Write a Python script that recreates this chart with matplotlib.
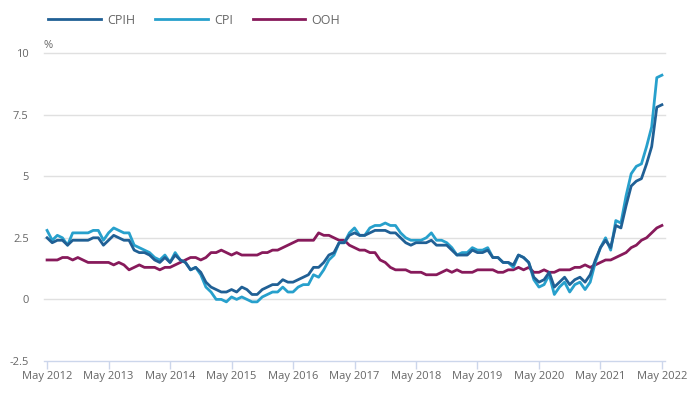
#
# plot.py - CPIH, CPI and OOH 12-month inflation rates, May 2012 to May 2022
#
import matplotlib
matplotlib.use("Agg")
import matplotlib.pyplot as plt

# Month index 0 = May 2012, 120 = May 2022
tick_labels = ["May 2012", "May 2013", "May 2014", "May 2015", "May 2016",
               "May 2017", "May 2018", "May 2019", "May 2020", "May 2021",
               "May 2022"]
y_ticks = [-2.5, 0, 2.5, 5, 7.5, 10]
y_tick_labels = ["-2.5", "0", "2.5", "5", "7.5", "10"]

cpih = [2.5, 2.3, 2.4, 2.4, 2.2, 2.4, 2.4, 2.4,
        2.4, 2.5, 2.5, 2.2, 2.4, 2.6, 2.5, 2.4, 2.4, 2.0, 1.9, 1.9,
        1.8, 1.6, 1.5, 1.7, 1.5, 1.8, 1.6, 1.5, 1.2, 1.3, 1.1, 0.7,
        0.5, 0.4, 0.3, 0.3, 0.4, 0.3, 0.5, 0.4, 0.2, 0.2, 0.4, 0.5,
        0.6, 0.6, 0.8, 0.7, 0.7, 0.8, 0.9, 1.0, 1.3, 1.3, 1.5, 1.8,
        1.9, 2.3, 2.3, 2.6, 2.7, 2.6, 2.6, 2.7, 2.8, 2.8, 2.8, 2.7,
        2.7, 2.5, 2.3, 2.2, 2.3, 2.3, 2.3, 2.4, 2.2, 2.2, 2.2, 2.0,
        1.8, 1.8, 1.8, 2.0, 1.9, 1.9, 2.0, 1.7, 1.7, 1.5, 1.5, 1.4,
        1.8, 1.7, 1.5, 0.9, 0.7, 0.8, 1.1, 0.5, 0.7, 0.9, 0.6, 0.8,
        0.9, 0.7, 1.0, 1.6, 2.1, 2.4, 2.1, 3.0, 2.9, 3.8, 4.6, 4.8,
        4.9, 5.5, 6.2, 7.8, 7.9]

cpi = [2.8, 2.4, 2.6, 2.5, 2.2, 2.7, 2.7, 2.7,
       2.7, 2.8, 2.8, 2.4, 2.7, 2.9, 2.8, 2.7, 2.7, 2.2, 2.1, 2.0,
       1.9, 1.7, 1.6, 1.8, 1.5, 1.9, 1.6, 1.5, 1.2, 1.3, 1.0, 0.5,
       0.3, 0.0, 0.0, -0.1, 0.1, 0.0, 0.1, 0.0, -0.1, -0.1, 0.1, 0.2,
       0.3, 0.3, 0.5, 0.3, 0.3, 0.5, 0.6, 0.6, 1.0, 0.9, 1.2, 1.6,
       1.8, 2.3, 2.3, 2.7, 2.9, 2.6, 2.6, 2.9, 3.0, 3.0, 3.1, 3.0,
       3.0, 2.7, 2.5, 2.4, 2.4, 2.4, 2.5, 2.7, 2.4, 2.4, 2.3, 2.1,
       1.8, 1.9, 1.9, 2.1, 2.0, 2.0, 2.1, 1.7, 1.7, 1.5, 1.5, 1.3,
       1.8, 1.7, 1.5, 0.8, 0.5, 0.6, 1.0, 0.2, 0.5, 0.7, 0.3, 0.6,
       0.7, 0.4, 0.7, 1.5, 2.1, 2.5, 2.0, 3.2, 3.1, 4.2, 5.1, 5.4,
       5.5, 6.2, 7.0, 9.0, 9.1]

ooh = [1.6, 1.6, 1.6, 1.7, 1.7, 1.6, 1.7, 1.6,
       1.5, 1.5, 1.5, 1.5, 1.5, 1.4, 1.5, 1.4, 1.2, 1.3, 1.4, 1.3,
       1.3, 1.3, 1.2, 1.3, 1.3, 1.4, 1.5, 1.6, 1.7, 1.7, 1.6, 1.7,
       1.9, 1.9, 2.0, 1.9, 1.8, 1.9, 1.8, 1.8, 1.8, 1.8, 1.9, 1.9,
       2.0, 2.0, 2.1, 2.2, 2.3, 2.4, 2.4, 2.4, 2.4, 2.7, 2.6, 2.6,
       2.5, 2.4, 2.4, 2.2, 2.1, 2.0, 2.0, 1.9, 1.9, 1.6, 1.5, 1.3,
       1.2, 1.2, 1.2, 1.1, 1.1, 1.1, 1.0, 1.0, 1.0, 1.1, 1.2, 1.1,
       1.2, 1.1, 1.1, 1.1, 1.2, 1.2, 1.2, 1.2, 1.1, 1.1, 1.2, 1.2,
       1.3, 1.2, 1.3, 1.1, 1.1, 1.2, 1.1, 1.1, 1.2, 1.2, 1.2, 1.3,
       1.3, 1.4, 1.3, 1.4, 1.5, 1.6, 1.6, 1.7, 1.8, 1.9, 2.1, 2.2,
       2.4, 2.5, 2.7, 2.9, 3.0]

plt.rcParams['font.family'] = ['Open Sans', 'DejaVu Sans']

fig = plt.figure(figsize=(6.94, 3.93), dpi=100)
ax = fig.add_axes([44 / 694, 1 - 361 / 393, 621 / 694, 308 / 393])

months = list(range(len(cpih)))
ax.plot(months, ooh, color="#871a5b", lw=2.0, label="OOH", zorder=3,
        solid_joinstyle="round")
ax.plot(months, cpi, color="#27a0cc", lw=2.0, label="CPI", zorder=4,
        solid_joinstyle="round")
ax.plot(months, cpih, color="#206095", lw=2.0, label="CPIH", zorder=5,
        solid_joinstyle="round")

ax.set_xlim(-0.6, 120.6)
ax.set_ylim(-2.5, 10)
ax.set_xticks(range(0, 121, 12))
ax.set_xticklabels(tick_labels)
ax.set_yticks(y_ticks)
ax.set_yticklabels(y_tick_labels)

# grid and axis styling
for v in y_ticks[1:]:
    ax.axhline(v, color="#e0e0e0", lw=1.0, zorder=1, clip_on=False)
for s in ["top", "right", "left"]:
    ax.spines[s].set_visible(False)
ax.spines["bottom"].set_color("#ccd6eb")
ax.spines["bottom"].set_linewidth(1.0)
ax.tick_params(axis="x", colors="#ccd6eb", length=6, width=1.0,
               labelcolor="#666666", labelsize=8, pad=1)
ax.tick_params(axis="y", length=0, labelcolor="#666666", labelsize=8, pad=11)

fig.text(44 / 694, 1 - 46 / 393, "%", color="#666666", fontsize=8,
         ha="left", va="center")

# legend drawn in the order CPIH, CPI, OOH
handles, labels = ax.get_legend_handles_labels()
order = [2, 1, 0]
fig.legend([handles[i] for i in order], [labels[i] for i in order],
           loc="center left", bbox_to_anchor=(37 / 694, 1 - 20 / 393),
           ncol=3, frameon=False, fontsize=9, handlelength=4.2,
           handletextpad=0.5, columnspacing=1.6, labelcolor="#666666")

fig.savefig("out.png", dpi=100)
